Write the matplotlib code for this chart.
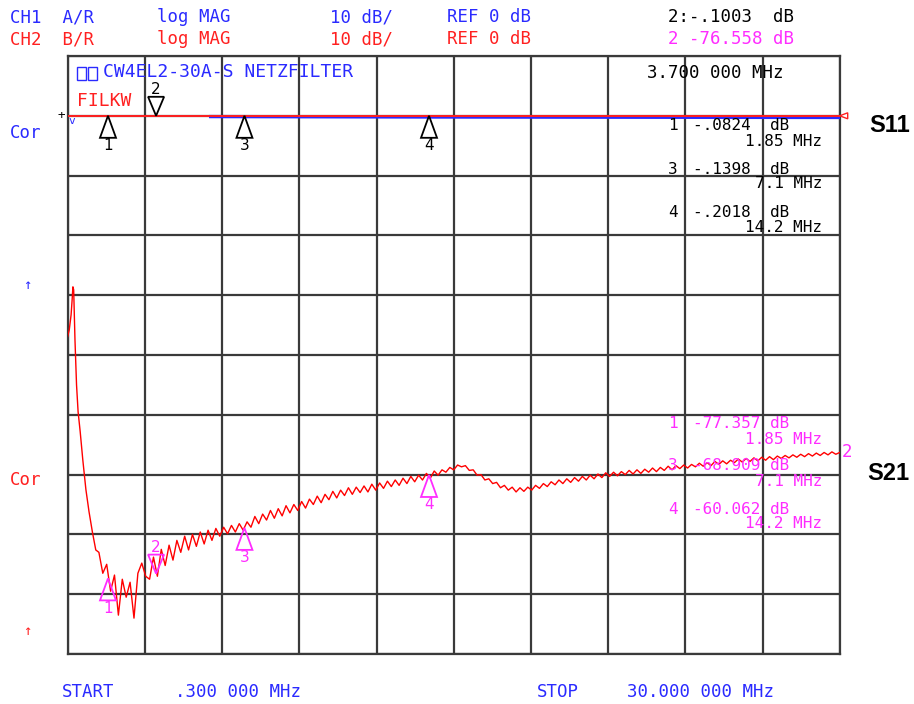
import numpy as np
import matplotlib.pyplot as plt
from matplotlib.patches import Polygon, Rectangle

# ==============================
# DATA
# ==============================
F_START, F_STOP = 0.3, 30.0      # MHz
DB_TOP, DB_BOTTOM = 10, -90      # 10 dB/div, REF 0 dB one div below top

# S21 low-frequency part, explicit sweep points
S21_HEAD_MHZ = [0.30, 0.36, 0.43, 0.47, 0.50, 0.53, 0.58, 0.64, 0.70,
                0.78, 0.88, 1.00, 1.12, 1.25, 1.38]
S21_HEAD_DB = [-36.9, -35.8, -33.3, -30.8, -28.6, -29.1, -37.5, -45.0, -49.5,
               -52.8, -57.5, -62.5, -66.2, -69.6, -72.6]

# S21 main sweep, 0.15 MHz steps starting at 1.5 MHz
S21_BODY_START = 1.5
S21_BODY_STEP = 0.15
S21_BODY_DB = [
    -73.0, -76.5, -75.0, -79.5, -76.8, -83.5, -77.5, -80.5, -78.0, -84.0,
    -76.5, -74.8, -77.0,
    -77.5, -73.8, -77.0, -72.5, -75.2, -71.8, -74.3, -71.0, -73.0, -70.3,
    -72.6, -70.0, -72.0, -69.6, -71.6, -69.3, -71.0, -69.0,
    -70.3, -68.8, -69.9, -68.5, -69.6, -68.2, -69.3, -67.9, -68.8, -67.0,
    -68.2, -66.6, -67.6, -66.0, -67.3, -65.7, -66.9, -65.2, -66.4, -65.0,
    -66.0, -64.5, -65.6, -64.1, -65.0, -63.6, -64.7, -63.3, -64.2, -62.8,
    -63.9, -62.6, -63.5, -62.2, -63.3, -62.1, -63.0, -61.9, -62.9, -61.6,
    -62.6, -61.4, -62.3, -61.1, -62.0, -60.9, -61.8, -60.6, -61.5, -60.3,
    -61.2, -60.1, -60.9, -59.8, -60.6,
    -59.4, -60.1, -59.2, -59.6, -58.8, -59.2, -58.4, -58.7, -58.5, -59.3,
    -59.2, -60.1, -60.0, -60.9, -60.7, -61.5, -61.3, -62.2, -61.8, -62.6,
    -62.1, -62.9, -62.2, -62.8, -62.1, -62.6, -61.8, -62.3, -61.5, -62.0,
    -61.2, -61.7, -60.9, -61.5, -60.7, -61.3, -60.5, -61.1, -60.3, -60.9,
    -60.1, -60.7, -59.9, -60.5, -59.7, -60.3, -59.6, -60.2, -59.5, -60.0,
    -59.3, -59.9, -59.2, -59.8, -59.1, -59.6, -58.9, -59.5, -58.8, -59.3,
    -58.6, -59.2, -58.5, -59.0, -58.4, -58.9, -58.3, -58.7, -58.1, -58.6,
    -58.0, -58.5, -57.8, -58.3, -57.7, -58.2, -57.6, -58.0, -57.4, -57.9,
    -57.3, -57.8, -57.2, -57.7, -57.1, -57.6, -57.0, -57.5, -56.9, -57.3,
    -56.8, -57.2, -56.7, -57.1, -56.6, -57.0, -56.5, -56.9, -56.4, -56.8,
    -56.3, -56.7, -56.2, -56.6, -56.3,
]

# S11 trace (nearly flat at 0 dB, visible below the red line from ~5.8 MHz)
S11_MHZ = [5.8, 7.1, 14.2, 30.0]
S11_DB = [-0.13, -0.1398, -0.2018, -0.28]

MARKER_MHZ = [1.85, 3.7, 7.1, 14.2]
MARKER_NAMES = ["1", "2", "3", "4"]
S11_MARKER_DB = [-0.0824, -0.1003, -0.1398, -0.2018]
S21_MARKER_DB = [-77.357, -76.558, -68.909, -60.062]
MARKER_MHZ_TXT = ["1.85 MHz", "3.7 MHz", "7.1 MHz", "14.2 MHz"]

# ==============================
# FIGURE
# ==============================
W, H = 914, 704
MONO = "DejaVu Sans Mono"
BLUE = "#2a2aff"
RED = "#ff2020"
MAG = "#ff2cff"
GRID = "#3a3a3a"

fig = plt.figure(figsize=(W / 100, H / 100), dpi=100)
ax_l, ax_r, ax_t, ax_b = 67.7, 839.7, 56.0, 654.0
ax = fig.add_axes([ax_l / W, 1 - ax_b / H, (ax_r - ax_l) / W, (ax_b - ax_t) / H])
ax.set_xlim(F_START, F_STOP)
ax.set_ylim(DB_BOTTOM, DB_TOP)
ax.set_xticks(np.linspace(F_START, F_STOP, 11))
ax.set_yticks(np.arange(DB_BOTTOM, DB_TOP + 1, 10))
ax.tick_params(length=0, labelbottom=False, labelleft=False)
ax.grid(True, color=GRID, lw=1.6)
for s in ax.spines.values():
    s.set_color(GRID)
    s.set_linewidth(1.6)

# pixel -> data scale
mhz_px = (F_STOP - F_START) / (ax_r - ax_l)
db_px = (DB_TOP - DB_BOTTOM) / (ax_b - ax_t)

# traces
body_mhz = S21_BODY_START + S21_BODY_STEP * np.arange(len(S21_BODY_DB))
s21_mhz = np.concatenate([S21_HEAD_MHZ, body_mhz])
s21_db = np.concatenate([S21_HEAD_DB, S21_BODY_DB])
ax.plot(S11_MHZ, S11_DB, color=BLUE, lw=2.4, zorder=3)
ax.plot([F_START, F_STOP], [0, 0], color=RED, lw=1.4, zorder=4)
ax.plot(s21_mhz, s21_db, color="#ff0000", lw=1.0, zorder=4)


def tri(f, v, color, down=False, h=22, w=16):
    # marker triangle with its tip on the trace, returns label y
    dx = w / 2 * mhz_px
    if down:
        dy = (h - 3) * db_px
        pts = [(f, v), (f - dx, v + dy), (f + dx, v + dy)]
    else:
        dy = h * db_px
        pts = [(f, v), (f - dx, v - dy), (f + dx, v - dy)]
    ax.add_patch(Polygon(pts, closed=True, fill=False, ec=color, lw=1.3, zorder=5))
    if down:
        return v + dy + 7 * db_px
    return v - dy - 8 * db_px


for f, v, name in zip(MARKER_MHZ, S11_MARKER_DB, MARKER_NAMES):
    ly = tri(f, 0, "black", down=(name == "2"))
    ax.text(f, ly, name, color="black", fontsize=11, ha="center", va="center", zorder=6)

for f, v, name in zip(MARKER_MHZ, S21_MARKER_DB, MARKER_NAMES):
    ly = tri(f, v, MAG, down=(name == "2"))
    ax.text(f, ly, name, color=MAG, fontsize=11, ha="center", va="center", zorder=6)

# reference pointer at right edge
ax.add_patch(Polygon([(F_STOP, 0), (F_STOP + 8 * mhz_px, 3 * db_px),
                      (F_STOP + 8 * mhz_px, -3 * db_px)], closed=True,
                     fill=False, ec=RED, lw=1.0, clip_on=False, zorder=5))


def put(x, y, s, color, size=12.5, family=MONO, ha="left", **kw):
    fig.text(x / W, 1 - y / H, s, color=color, fontsize=size, family=family,
             ha=ha, va="center", **kw)


# header
put(10, 17, "CH1  A/R", BLUE)
put(157, 17, "log MAG", BLUE)
put(330, 17, "10 dB/", BLUE)
put(447, 17, "REF 0 dB", BLUE)
put(668, 17, "2:-.1003  dB", "black")
put(10, 39, "CH2  B/R", RED)
put(157, 39, "log MAG", RED)
put(330, 39, "10 dB/", RED)
put(447, 39, "REF 0 dB", RED)
put(668, 39, "2 -76.558 dB", MAG)

# title inside grid
fig.patches.append(Rectangle((77 / W, 1 - 80 / H), 9 / W, 13 / H, fill=False,
                             ec=BLUE, lw=1.0, transform=fig.transFigure))
fig.patches.append(Rectangle((88 / W, 1 - 80 / H), 9 / W, 13 / H, fill=False,
                             ec=BLUE, lw=1.0, transform=fig.transFigure))
put(103, 72, "CW4EL2-30A-S NETZFILTER", BLUE, size=13)
put(77, 101, "FILKW", RED, size=13)
put(647, 73, "3.700 000 MHz", "black")

# S11 marker readouts
for name, val, ftxt, y in zip(["1", "3", "4"], [-0.0824, -0.1398, -0.2018],
                              ["1.85 MHz", "7.1 MHz", "14.2 MHz"], [126, 169, 213]):
    put(668, y, name, "black", size=11.5)
    put(693, y, f"{val:.4f}".replace("0.", ".", 1) + "  dB", "black", size=11.5)
    put(822, y + 15, ftxt, "black", size=11.5, ha="right")

# S21 marker readouts
for name, val, ftxt, y in zip(["1", "3", "4"], [-77.357, -68.909, -60.062],
                              ["1.85 MHz", "7.1 MHz", "14.2 MHz"], [424, 466, 509]):
    put(668, y, name, MAG, size=11.5)
    put(693, y, f"{val:.3f} dB", MAG, size=11.5)
    put(822, y + 15, ftxt, MAG, size=11.5, ha="right")
put(842, 452, "2", MAG)

# left annotations
put(10, 133, "Cor", BLUE)
put(10, 480, "Cor", RED)
put(27, 285, "↑", BLUE, size=10, ha="center")
put(27, 631, "↑", RED, size=10, ha="center")
put(61, 116, "+", "black", size=9, ha="center")
put(72, 121, "v", BLUE, size=8, ha="center")

# S11 / S21 labels
put(869, 125, "S11", "black", size=17, family="Liberation Sans", weight="bold")
put(867, 474, "S21", "black", size=17, family="Liberation Sans", weight="bold")

# footer
put(62, 692, "START", BLUE)
put(175, 692, ".300 000 MHz", BLUE)
put(537, 692, "STOP", BLUE)
put(627, 692, "30.000 000 MHz", BLUE)

fig.savefig("out.png", dpi=100)
plt.close(fig)
